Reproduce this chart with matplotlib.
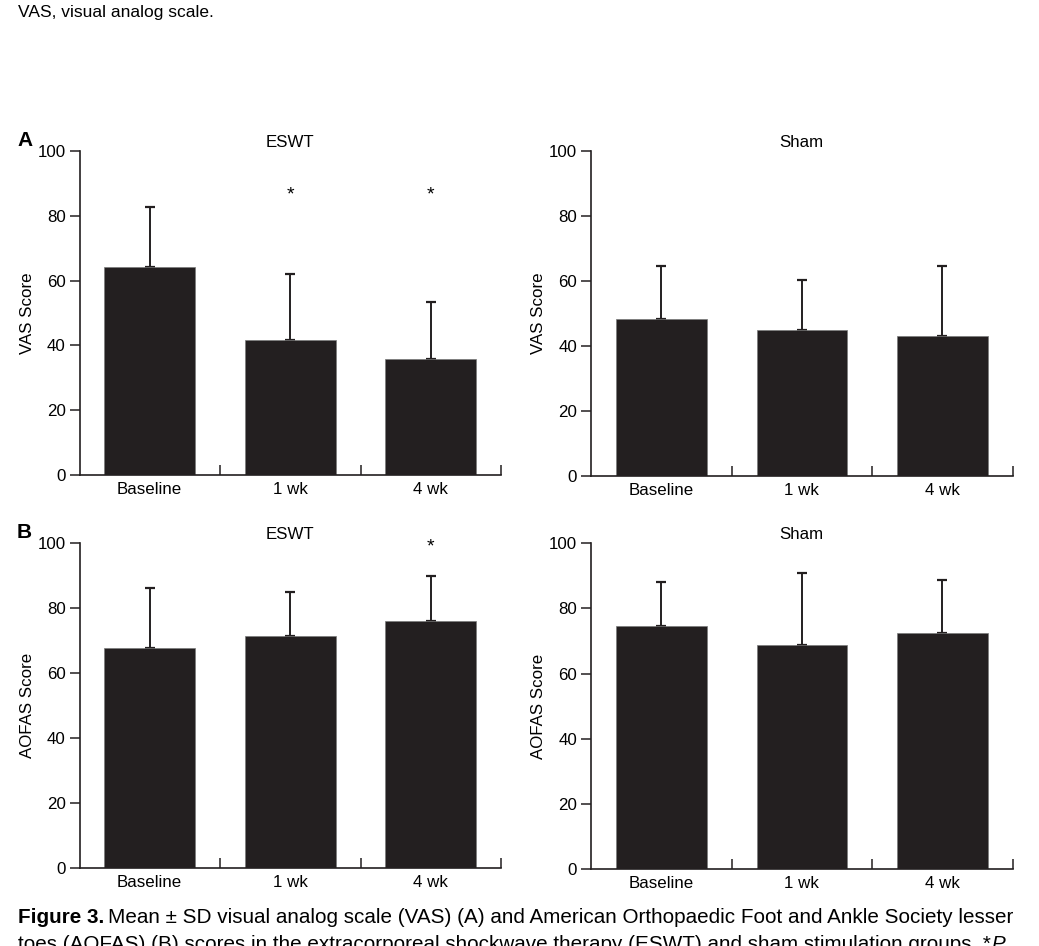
import matplotlib
matplotlib.use("Agg")
import matplotlib.pyplot as plt
import numpy as np

plt.rcParams["font.family"] = ["Liberation Sans", "DejaVu Sans"]

W, H = 1039, 946

categories = ["Baseline", "1 wk", "4 wk"]

vas_eswt_mean = [64.3, 41.7, 35.9]
vas_eswt_sd = [18.3, 20.3, 17.6]
vas_sham_mean = [48.2, 44.9, 43.0]
vas_sham_sd = [16.4, 15.4, 21.6]

aofas_eswt_mean = [67.9, 71.6, 76.1]
aofas_eswt_sd = [18.4, 13.5, 13.8]
aofas_sham_mean = [74.5, 68.9, 72.6]
aofas_sham_sd = [13.6, 22.1, 16.0]

vas_eswt_sig = [False, True, True]
aofas_eswt_sig = [False, False, True]

BAR = "#231f20"
FS = 12.2


def px(x, y):
    """pixel position (from top-left) -> figure fraction"""
    return x / W, 1 - y / H


def add_panel(fig, left, right, top, bottom, mean, sd, title, ylabel, sig=None, sig_y=None):
    ax = fig.add_axes([left / W, 1 - bottom / H, (right - left) / W, (bottom - top) / H])
    x = np.arange(len(categories))
    ax.bar(x, mean, width=0.645, color=BAR, edgecolor="#7a7a7a", linewidth=0.5, zorder=2)
    ax.errorbar(x, mean, yerr=[np.zeros(len(sd)), sd], fmt="none", ecolor=BAR,
                elinewidth=1.4, capsize=3.6, capthick=1.6, zorder=1)

    ax.set_xlim(-0.5, len(categories) - 0.5)
    ax.set_ylim(0, 100)
    ax.set_yticks([0, 20, 40, 60, 80, 100])
    ax.set_xticks(x + 0.5)
    ax.set_xticklabels([])
    ax.tick_params(axis="x", direction="in", length=7, width=1.1, color=BAR)
    ax.tick_params(axis="y", direction="out", length=7, width=1.1, color=BAR, labelsize=FS, pad=3)
    for s in ["top", "right"]:
        ax.spines[s].set_visible(False)
    for s in ["left", "bottom"]:
        ax.spines[s].set_linewidth(1.2)
        ax.spines[s].set_color(BAR)

    # category labels centred under bars
    for xi, lab in zip(x, categories):
        ax.text(xi, -0.022, lab, transform=ax.get_xaxis_transform(), ha="center", va="top", fontsize=FS)

    ax.set_ylabel(ylabel, fontsize=FS, labelpad=2)
    ax.set_title(title, fontsize=FS, pad=3)
    if sig is not None:
        for xi, s in zip(x, sig):
            if s:
                ax.text(xi, sig_y, "*", ha="center", va="center", fontsize=14)
    return ax


fig = plt.figure(figsize=(W / 100, H / 100), dpi=100)

add_panel(fig, 79.5, 501, 150.7, 475.3, vas_eswt_mean, vas_eswt_sd, "ESWT", "VAS Score",
          sig=vas_eswt_sig, sig_y=86.5)
add_panel(fig, 591, 1012.7, 150.7, 476, vas_sham_mean, vas_sham_sd, "Sham", "VAS Score")
add_panel(fig, 79.5, 501, 543.3, 868.3, aofas_eswt_mean, aofas_eswt_sd, "ESWT", "AOFAS Score",
          sig=aofas_eswt_sig, sig_y=99.0)
add_panel(fig, 591, 1012.7, 543.3, 869, aofas_sham_mean, aofas_sham_sd, "Sham", "AOFAS Score")

fig.text(*px(17, 146), "A", fontsize=15, fontweight="bold", va="baseline")
fig.text(*px(17, 538), "B", fontsize=15, fontweight="bold", va="baseline")

fig.text(*px(18, 17), "VAS, visual analog scale.", fontsize=12.5, va="baseline")

# caption, bold lead-in followed by plain text
renderer = fig.canvas.get_renderer()
CFS = 14.9
lead = fig.text(*px(18, 923), "Figure 3.", fontsize=CFS, fontweight="bold", va="baseline")
bb = lead.get_window_extent(renderer)
fig.text(bb.x1 / W + 4 / W, 1 - 923 / H,
         "Mean \u00b1 SD visual analog scale (VAS) (A) and American Orthopaedic Foot and Ankle Society lesser",
         fontsize=CFS, va="baseline")
line2 = fig.text(*px(18, 950),
                 "toes (AOFAS) (B) scores in the extracorporeal shockwave therapy (ESWT) and sham stimulation groups. *",
                 fontsize=CFS, va="baseline")
bb2 = line2.get_window_extent(renderer)
fig.text(bb2.x1 / W, 1 - 950 / H, "P", fontsize=CFS, style="italic", va="baseline")

fig.savefig("out.png", dpi=100)
